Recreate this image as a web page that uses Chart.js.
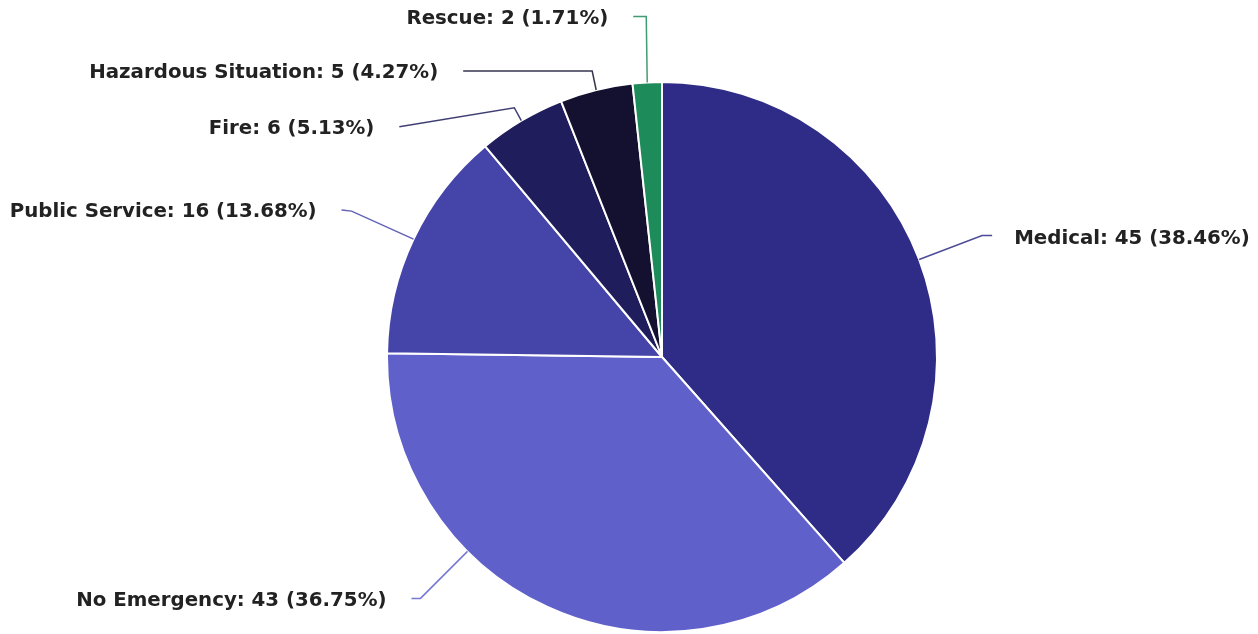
<!DOCTYPE html>
<html lang="en">
<head>
    <meta charset="UTF-8">
    <title>Calls by Type</title>
    <script src="https://cdn.jsdelivr.net/npm/chart.js"></script>
    <style>
        html, body { margin: 0; padding: 0; background: #ffffff; }
        .chart-wrap { width: 1258px; height: 634px; position: relative; }
    </style>
</head>
<body>
    <div class="chart-wrap">
        <canvas id="pieChart"></canvas>
    </div>

    <script>
        // Data
        const categories = ['Medical', 'No Emergency', 'Public Service', 'Fire', 'Hazardous Situation', 'Rescue'];
        const counts = [45, 43, 16, 6, 5, 2];
        const sliceColors = ['#2e2c86', '#6060cb', '#4545a9', '#1f1d5c', '#13112f', '#1e8b5a'];

        const total = counts.reduce((a, b) => a + b, 0);

        // Leader line layout, offsets from the point on the slice edge (px)
        const leaderLayout = [
            { shift: 0,    elbow: [63, -24],  end: [73, -24],   side: 'right' },
            { shift: 20.4, elbow: [-47, 47],  end: [-56, 47],   side: 'left' },
            { shift: 0,    elbow: [-62, -28], end: [-72, -29],  side: 'left' },
            { shift: 0,    elbow: [-7, -13],  end: [-122, 6],   side: 'left' },
            { shift: 0,    elbow: [-4, -19],  end: [-133, -19], side: 'left' },
            { shift: 0,    elbow: [-1, -66],  end: [-14, -66],  side: 'left' }
        ];

        // Outside labels with leader lines
        const leaderLabels = {
            id: 'leaderLabels',
            afterDatasetsDraw(chart) {
                const ctx = chart.ctx;
                const meta = chart.getDatasetMeta(0);
                ctx.save();
                ctx.font = 'bold 19.8px "DejaVu Sans"';
                ctx.textBaseline = 'middle';
                meta.data.forEach((arc, i) => {
                    const p = arc.getProps(['x', 'y', 'startAngle', 'endAngle', 'outerRadius'], true);
                    const lay = leaderLayout[i];
                    const mid = (p.startAngle + p.endAngle) / 2 + lay.shift * Math.PI / 180;
                    const ax = p.x + p.outerRadius * Math.cos(mid);
                    const ay = p.y + p.outerRadius * Math.sin(mid);
                    const ex = ax + lay.elbow[0], ey = ay + lay.elbow[1];
                    const tx = ax + lay.end[0], ty = ay + lay.end[1];

                    ctx.strokeStyle = sliceColors[i];
                    ctx.globalAlpha = 0.85;
                    ctx.lineWidth = 1.5;
                    ctx.beginPath();
                    ctx.moveTo(ax, ay);
                    ctx.lineTo(ex, ey);
                    ctx.lineTo(tx, ty);
                    ctx.stroke();
                    ctx.globalAlpha = 1;

                    const pct = (counts[i] / total * 100).toFixed(2);
                    const text = categories[i] + ': ' + counts[i] + ' (' + pct + '%)';
                    ctx.fillStyle = '#222222';
                    if (lay.side === 'right') {
                        ctx.textAlign = 'left';
                        ctx.fillText(text, tx + 22, ty + 3);
                    } else {
                        ctx.textAlign = 'right';
                        ctx.fillText(text, tx - 25, ty + 2);
                    }
                });
                ctx.restore();
            }
        };

        const pieCtx = document.getElementById('pieChart').getContext('2d');
        const pieChart = new Chart(pieCtx, {
            type: 'pie',
            data: {
                labels: categories,
                datasets: [{
                    data: counts,
                    backgroundColor: sliceColors,
                    borderColor: '#ffffff',
                    borderWidth: 2
                }]
            },
            options: {
                responsive: true,
                maintainAspectRatio: false,
                animation: false,
                layout: {
                    padding: { left: 386, right: 320, top: 81, bottom: 1 }
                },
                plugins: {
                    legend: { display: false },
                    tooltip: { enabled: false }
                }
            },
            plugins: [leaderLabels]
        });
    </script>
</body>
</html>
